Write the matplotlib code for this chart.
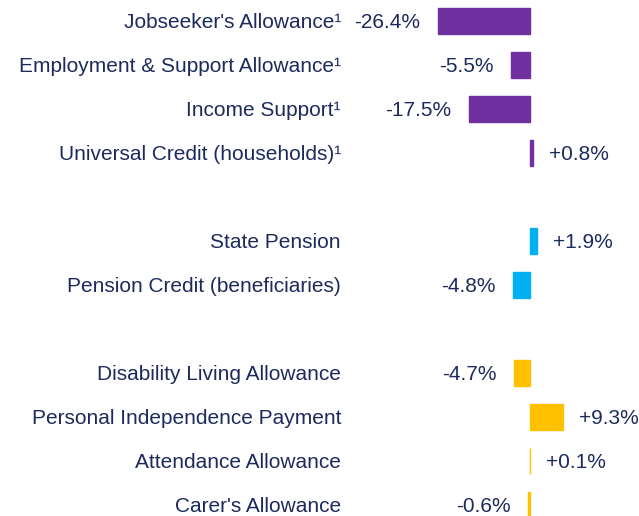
import matplotlib
matplotlib.use("Agg")
import matplotlib.pyplot as plt

categories = ["Jobseeker's Allowance¹", "Employment & Support Allowance¹", "Income Support¹",
              "Universal Credit (households)¹", "State Pension", "Pension Credit (beneficiaries)",
              "Disability Living Allowance", "Personal Independence Payment",
              "Attendance Allowance", "Carer's Allowance"]
values = [-26.4, -5.5, -17.5, 0.8, 1.9, -4.8, -4.7, 9.3, 0.1, -0.6]
groups = [0, 0, 0, 0, 1, 1, 2, 2, 2, 2]
group_colors = ["#7030A0", "#00B0F0", "#FFC000"]
text_color = "#1C2B5C"

plt.rcParams['font.family'] = ['Liberation Sans', 'DejaVu Sans']

W, H = 639, 516
fig = plt.figure(figsize=(W / 100, H / 100), dpi=100)
ax = fig.add_axes([0, 0, 1, 1])

# slot positions with one empty slot between groups
slots = [i + g for i, g in enumerate(groups)]

zero_px, px_per = 530, 3.5
ax.set_xlim(-zero_px / px_per, (W - zero_px) / px_per)
ax.set_ylim((H - 21) / 44, -21 / 44)
ax.axis('off')

fs = 15
for s, v, g, lab in zip(slots, values, groups, categories):
    c = group_colors[g]
    ax.barh(s, v, height=0.58, color=c, edgecolor=c, linewidth=1.0)
    ax.text(341 / W, s + 0.03, lab, transform=ax.get_yaxis_transform(), ha='right', va='center',
            fontsize=fs, color=text_color)
    txt = f"{v:+.1f}%"
    if v < 0:
        ax.annotate(txt, (v, s + 0.03), xytext=(-12.5, 0), textcoords='offset points',
                    ha='right', va='center', fontsize=fs, color=text_color)
    else:
        ax.annotate(txt, (v, s + 0.03), xytext=(11.5, 0), textcoords='offset points',
                    ha='left', va='center', fontsize=fs, color=text_color)

fig.savefig("out.png", dpi=100)
